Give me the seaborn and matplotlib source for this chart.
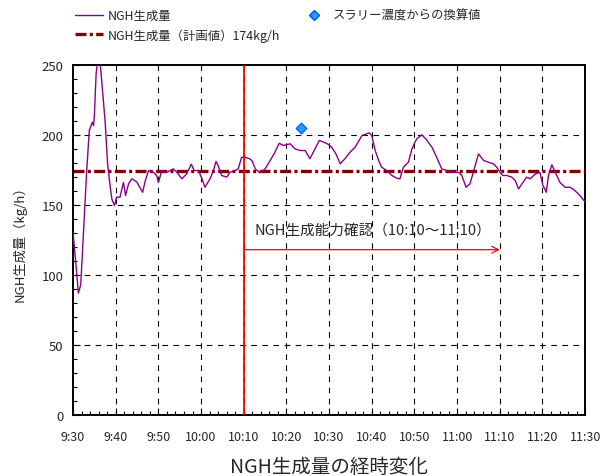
import matplotlib
matplotlib.use("Agg")
import matplotlib.pyplot as plt
from matplotlib.ticker import MultipleLocator, FixedLocator
from matplotlib.lines import Line2D
import seaborn as sns
import pandas as pd

# ---- data ----
minutes = [0, 0.6, 1.25, 1.8, 3.2, 3.8, 4.5, 4.8, 5.0, 5.4, 5.8, 6.3, 6.7, 7.5, 8.1, 8.7,
           9.1, 9.7, 10.2, 11.0, 11.8, 12.3, 13.0, 13.75, 14.9, 16.3, 16.9, 17.7, 18.8,
           19.6, 20.0, 20.8, 22.0, 23.5, 24.3, 25.5, 26.6, 27.7, 28.4, 29.4, 30.2, 30.9,
           32.1, 32.9, 33.5, 34.0, 34.8, 36.0, 36.8, 38.0, 38.7, 39.5, 40.3, 41.3, 41.9,
           42.7, 43.8, 45.0, 46.2, 47.3, 48.3, 49.3, 50.9, 52.0, 53.2, 54.4, 55.5, 56.7,
           57.7, 58.7, 59.6, 60.6, 61.6, 62.6, 63.7, 64.9, 66.1, 67.7, 69.4, 70.0, 70.8,
           71.6, 72.3, 73.5, 74.7, 75.9, 76.6, 77.4, 78.6, 79.4, 80.5, 81.7, 82.7, 84.1,
           85.2, 86.4, 87.6, 88.7, 90.3, 91.1, 92.1, 93.0, 93.8, 95.0, 96.2, 97.3, 98.5,
           99.3, 100.0, 100.7, 101.6, 102.8, 103.6, 104.4, 105.2, 106.3, 107.1, 108.3,
           109.4, 110.1, 110.9, 111.4, 112.2, 113.0, 114.1, 115.3, 116.5, 117.6, 118.8, 120.0]
ngh = [130, 110, 87, 93, 174.5, 203, 209, 206.6, 214, 243.6, 254, 253, 239, 210, 179, 163,
       154, 149.5, 155.5, 155.5, 166, 156.7, 165, 168.6, 166.5, 159, 167, 174.5, 173.3,
       171, 166, 174.5, 173.3, 175.7, 173.3, 168.6, 172, 179, 174.5, 174.5, 168.6, 162.6,
       168.6, 174.5, 181, 178, 171, 169.8, 173.3, 174.5, 175.7, 184, 184, 183, 181.7,
       175.7, 172.9, 175.7, 181.7, 187.6, 194, 192.4, 193.6, 190, 188.8, 188.8, 182.9, 190,
       196, 194.8, 193.6, 191.2, 186.4, 179.3, 182.9, 187.6, 191.2, 199.5, 201.4, 199.5, 188.8,
       181.7, 176.9, 174.5, 171, 169, 168.6, 176.9, 180.5, 190, 197, 200, 197, 191.2,
       184, 175.7, 174.5, 173.3, 173.3, 171, 162.6, 165, 173.3, 186.4, 181.7, 180.5, 179.3,
       176.9, 173.3, 171, 171, 169.8, 167.4, 161.4, 165, 169.8, 168.6, 172,
       173.3, 164, 159, 171, 178.6, 173.3, 166, 162.6, 162.6, 160.2, 156.7, 152]
plan_value = 174
slurry_minute = [53.4]
slurry_value = [205]
tick_minutes = [0, 10, 20, 30, 40, 50, 60, 70, 80, 90, 100, 110, 120]
tick_labels = ["9:30", "9:40", "9:50", "10:00", "10:10", "10:20", "10:30",
               "10:40", "10:50", "11:00", "11:10", "11:20", "11:30"]
check_start, check_end = 40, 100

sns.set_style("white")
plt.rcParams['font.family'] = ['Noto Sans CJK JP', 'DejaVu Sans']

PURPLE = "#8B008B"
PLAN = "#800000"
PLAN_DASH = [3.3, 1.0, 0.9, 1.0]

fig = plt.figure(figsize=(6.14, 4.77), dpi=100)
ax = fig.add_axes([0.119, 0.128, 0.834, 0.734])

df = pd.DataFrame({"t": minutes, "v": ngh})
sns.lineplot(data=df, x="t", y="v", ax=ax, color=PURPLE, lw=1.0, zorder=4)

plan = ax.axhline(plan_value, color=PLAN, lw=2.4, zorder=3)
plan.set_dashes(PLAN_DASH)

sdf = pd.DataFrame({"t": slurry_minute, "v": slurry_value})
sns.scatterplot(data=sdf, x="t", y="v", ax=ax, marker="D", s=30, color="#1EA0FF",
                edgecolor="#0050FF", linewidth=0.8, zorder=6)

ax.axvline(check_start, color="red", lw=1.3, zorder=5)
ax.annotate("", xy=(check_end, 118), xytext=(check_start, 118),
            arrowprops=dict(arrowstyle="->", color="red", lw=0.9,
                            shrinkA=0, shrinkB=0, mutation_scale=12), zorder=5)
ax.text(check_start + 2.5, 132.5, "NGH生成能力確認（10:10〜11:10）", fontsize=10.5,
        va="center", ha="left", zorder=5)

ax.set_xlim(0, 120)
ax.set_ylim(0, 250)
ax.xaxis.set_major_locator(FixedLocator(tick_minutes))
ax.set_xticklabels(tick_labels, fontsize=9)
ax.xaxis.set_minor_locator(MultipleLocator(2))
ax.yaxis.set_major_locator(MultipleLocator(50))
ax.yaxis.set_minor_locator(MultipleLocator(10))
ax.tick_params(axis="y", labelsize=9.5)
ax.tick_params(which="major", direction="in", length=5, width=0.8, color="black", pad=7)
ax.tick_params(which="minor", direction="in", length=3, width=0.8, color="black")
ax.tick_params(axis="x", which="major", pad=11)
ax.tick_params(axis="y", which="both", left=True)
ax.tick_params(axis="x", which="both", bottom=True)

for gx in tick_minutes[1:-1]:
    gl = ax.axvline(gx, color="black", lw=0.8, zorder=1)
    gl.set_dashes([5, 5])
for gy in [50, 100, 150, 200]:
    gl = ax.axhline(gy, color="black", lw=0.8, zorder=1)
    gl.set_dashes([5, 5])

for sp in ax.spines.values():
    sp.set_color("black")
    sp.set_linewidth(1.4)

ax.set_xlabel("NGH生成量の経時変化", fontsize=14, labelpad=9)
ax.set_ylabel("NGH生成量（kg/h）", fontsize=9.5, labelpad=11)

handles = [
    Line2D([], [], color=PURPLE, lw=1.0),
    Line2D([], [], color=PLAN, lw=2.4, dashes=PLAN_DASH),
    Line2D([], [], marker="D", ls="none", markersize=5.5, markerfacecolor="#1EA0FF",
           markeredgecolor="#0050FF"),
]
labels = ["NGH生成量", "NGH生成量（計画値）174kg/h", "スラリー濃度からの換算値"]
fig.legend(handles, labels, ncol=2, loc="upper left", bbox_to_anchor=(0.122, 0.979),
           frameon=False, fontsize=8.9, handlelength=2.3, handletextpad=0.35,
           columnspacing=1.6, labelspacing=0.5, borderpad=0, borderaxespad=0)

fig.savefig("out.png", dpi=100)
